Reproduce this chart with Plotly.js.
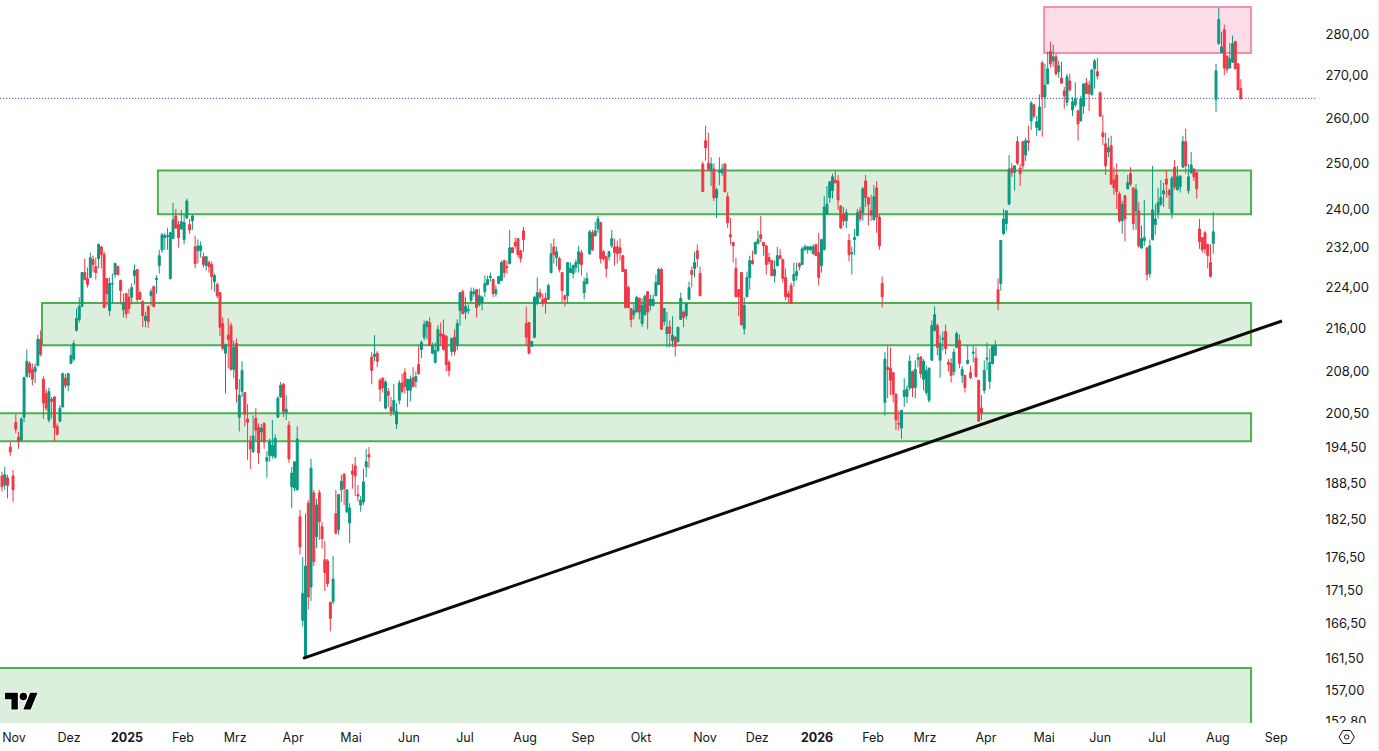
<!DOCTYPE html>
<html><head><meta charset="utf-8">
<script src="https://cdn.plot.ly/plotly-3.0.1.min.js"></script>
<style>html,body{margin:0;padding:0;background:#fff;overflow:hidden}#chart{width:1379px;height:751px}</style>
</head><body><div id="chart"></div>
<script>
// Each row: open, high, low, close (one row per trading day)
const nov2024=[[189.7,190.4,187.1,187.9],[188.2,191.2,187.4,189.9],[189.4,189.9,186,188.1],[194.6,195.5,193.1,193.8],[189.7,190.7,185.4,187.4],[198.9,200.3,197,197.7],[196.3,197.2,194.3,195.5],[195.8,199.8,195.6,199.5],[199.8,207.1,198.9,206.9],[207.1,212.1,206.9,209.9],[209.5,209.9,206.9,207.8],[208.4,209.5,205.5,206.6],[208,209.5,205.9,208.8],[209.1,214.9,209,214],[214,215.7,210.8,211.2],[206.6,207.1,199.5,202.3],[204,204.8,200.9,201.4],[199.3,205.1,198.9,204.4],[203,203.4,199.6,202.6],[203.4,203.5,195.6,198],[198.2,198.7,196.6,196.8],[199.1,201.9,198.9,201.4],[201.6,207.8,201.5,207.6],[206.8,207.6,205,205.5],[205.5,207.8,204.4,207.6]];
const dec2024=[[209.5,212.9,209.4,211],[210.3,213.8,209.9,213.2],[215.7,219.9,215.5,218],[217.8,222.1,217.2,220.3],[220.3,227,220.2,227],[227,229.8,225.4,225.6],[225.8,228,224,224.6],[226,231,225.9,230],[229.6,230.4,227,228.6],[228.2,230,225.6,227],[229.8,232.9,227.8,232.7],[232.2,232.4,227.8,230.6],[230.6,231.2,219.9,220.1],[225.8,225.9,220.5,222.8],[219.5,226,218.5,224.8],[224.7,226.8,220.9,224.8],[226.6,229,226,228.8],[228.2,228.4,226.4,226.6],[225.4,225.6,220.7,223.4],[219.7,222.8,218.2,221.1],[222.8,223,218,218.9]];
const jan2025=[[222.1,223.8,218.9,219.9],[222.1,224.8,220.7,224],[226.4,228.6,224.6,227.4],[227.6,227.7,221.1,221.7],[223,223.3,221.5,221.7],[221.3,221.5,216.3,218.5],[217.6,219.2,216.3,218.4],[220.3,220.5,216.1,217.4],[222.4,223.8,220.5,223.2],[224.2,224.4,220.1,220.3],[225.6,226.4,222.8,225.8],[228.4,231.6,226.8,230.4],[231.6,235.1,231,234.7],[234.1,235.1,231.6,234.5],[234.3,236.1,231.6,234.5],[225.8,235.3,225.6,235.1],[233.9,241.4,233.8,237.8],[238.6,240.1,235.9,236.1],[236.8,237.6,232,234.1],[235.9,239.9,235.8,237.4]];
const feb2025=[[233.7,239,232.7,237.2],[238.2,242.3,238,241.8],[236.8,238,234.9,235.7],[237.6,239,235.7,238.6],[232.2,234.5,227.8,228.8],[231.4,233.7,228.8,232.4],[231.4,233.3,230,232.4],[230.2,231,228,228.6],[228.4,230.2,227.4,230.2],[229,229.4,227,228.2],[228.6,229.2,223.6,226.2],[225.2,226.8,223.2,226.4],[224.6,225,221.9,222.4],[223,223,214.6,216.3],[217,218.2,211.9,212.3],[211.4,213.2,204,213],[214.8,218,208.6,214],[216.6,217.2,208.2,208.4]];
const mar2025=[[208.4,213.8,206.8,212.5],[213.2,214.2,202.4,204.8],[199.8,206.6,197.3,203.7],[204.4,209.9,203.4,208.2],[204.2,204.3,198.2,200.3],[199.5,202.1,192.4,198.9],[195.5,196.6,190.9,194.3],[193.8,200.1,193.6,196.5],[199.6,201.4,195.8,197.5],[198,198.7,191.7,193.6],[197.2,198.6,195.5,197.9],[198.7,198.9,194.3,195.5],[192.2,193.9,189.4,192.8],[193.1,196,192.1,195.5],[193.1,199.3,192.6,194.9],[192.9,196.8,192.6,196.1],[199.8,203.5,199.7,203.2],[203.4,206.1,203.3,205.5],[205.7,205.9,199.8,200.8],[200.6,203.7,199.3,201.2],[198.4,199.1,191.9,192.6]];
const apr2025=[[187.9,191.2,184.4,190.2],[187.7,192.1,187.2,192.1],[187.4,198.2,187.3,196],[183,184.1,177,178.2],[167,176.6,166.1,171],[161.8,183.5,161.6,175.2],[185.2,185.7,168.6,170.5],[172,192.6,169.9,191],[186.9,187.4,175.2,175.9],[179.8,185.9,178,184.9],[186.9,187.4,179.3,182.2],[181.4,182.2,177.9,179.5],[176.2,179.1,171.4,174.2],[176,176.3,172,172.5],[169.7,169.8,165.4,167.3],[169.8,176.8,169.4,173.2],[183.5,187.4,180.1,180.4],[180.9,186.7,180.1,186.6],[187.4,189.9,185.4,188.8],[190,190.2,184.9,187.6],[183.8,187.4,183.6,187.4],[182,185.2,178.8,184.4]];
const may2025=[[190.5,191.7,187.6,190],[191.4,192.9,186.4,189.7],[186.6,188.2,185.5,186.4],[184.9,186.4,183.8,185.7],[185.4,190.9,184.9,188.7],[191.2,194.3,189.5,192.1],[193.3,194.6,191,192.9],[210.7,211.6,205.7,208.2],[210.8,214.8,209.9,211.2],[211.4,211.8,208.8,209.9],[206.4,206.8,202.6,204.8],[206.8,206.9,204.2,205.1],[201.4,206.4,201.2,206.1],[204.4,205,201.6,203.7],[201.6,203.4,200,200.8],[200.8,205.7,200.1,202.8],[198.6,202.3,197.7,200.8],[202.8,206.4,202.1,205.9],[205.9,207.6,204,204.4],[207.8,208.6,204,205.3],[204.6,206.6,201.6,206.6]];
const jun2025=[[204.6,207.3,202.6,206.6],[206.9,208.8,205.1,205.3],[206.2,208,205.1,207.1],[209.3,212.9,207.4,207.6],[212.1,213.8,210.5,213.4],[214.4,217.6,213.8,216.8],[216.4,217.6,214,217.4],[217.2,218.2,212.7,212.9],[211.4,213.4,211.2,212.9],[209.7,213.4,209.5,211.9],[211.9,216.7,211.6,215.9],[215.1,217.2,212.9,214.6],[214.9,217.8,211.9,212.1],[214.6,214.8,208,209.3],[209.7,210.1,207.1,208.2],[211.7,214.2,210.8,214.2],[214.4,215.9,211,211.7],[212.9,217.8,211.9,217],[219.5,223,216.6,223],[223.2,223.6,218.9,218.9]];
const jul2025=[[219.2,222.1,217.8,220.3],[219.5,220.7,218.9,219.7],[221.5,224,221.1,223.2],[222.8,224,222.2,223.2],[223.6,223.7,218.2,220.1],[220.7,223.8,220.3,222.4],[221.1,222.4,219.5,222.1],[223.2,226.4,222.2,224.8],[224.6,226.4,224.4,225.6],[226,227,225.2,226.2],[225.6,225.8,222.1,222.8],[222.8,224.4,222.2,223.6],[224.8,226.3,224.7,226.2],[225.4,229.4,225.3,229],[229.4,229.6,226,227],[228.2,229.4,226.8,228],[228.8,235.7,228.6,232],[232,232.2,231,231],[233.1,234.1,231.8,232.4],[233.9,233.9,230,230.6],[231.4,231.6,229,229.8],[235.5,236.3,231.2,233.7]];
const aug2025=[[217,220.3,212.7,214.4],[217.2,217.3,211.2,211.4],[212.7,213.6,212.6,213.6],[214.4,222.4,214.2,222.1],[220.9,226,220.5,223],[223,223.8,221.7,222.2],[221.7,222.8,220.3,220.9],[221.9,223,218.9,221.1],[221.7,224.8,221.6,224.4],[227,232.9,226.8,230.8],[232.2,233.9,228.8,230.6],[230,232.2,228.2,231.2],[229.8,230.2,227,227.6],[227,227.1,220.9,223.4],[222.4,222.6,220.3,221.7],[222.4,229.1,220.9,229],[227,229,226.9,227.8],[226.8,228.6,225.8,228.4],[228,229.6,227,229],[228.8,232.4,227,231.2],[231,231.6,226.4,228.6]];
const sep2025=[[223,226,221.7,225.2],[224.8,227,224.6,225.8],[230.8,235.7,230.6,235.3],[235.1,235.7,231.4,231.6],[234.5,237.4,234.3,235.5],[235.9,238.6,235.1,238],[237.2,237.4,228.8,229.8],[231.2,231.6,229.4,229.8],[230.2,230.4,226,227.8],[230.2,231.4,229.4,231.2],[232.4,235.7,232,233.9],[232.2,233.9,228.4,231],[232.2,233.5,228.8,230.8],[232,233.9,229.4,231],[230.4,230.5,227.1,227.2],[227.6,227.7,219.9,220.1],[224,224.4,219.9,220.1],[219.9,220,216.3,217.8],[218.7,220.9,217.8,219.5],[219.3,222.4,219.1,222.1],[221.9,222,217.8,219.2]];
const oct2025=[[217,221.9,216.4,220.5],[218.7,222.6,218.5,222.3],[223.2,223.3,215.9,219.2],[220.5,222.6,219.5,221.7],[220.5,222.6,220.3,221.7],[222.4,226.6,222.3,225],[224.6,228,224.5,227.6],[227.6,228,215.9,215.9],[217.4,219.9,216.6,219.9],[215.1,219.2,212.5,216.3],[216.4,217.6,212.5,215.1],[213.8,218.4,212.5,214.8],[214.4,214.6,210.8,212.7],[213.6,216.4,213.4,216.3],[217.8,223,217.7,221.9],[219.2,219.5,216.3,218.2],[218.5,221.1,217.8,220.9],[221.7,225.2,221.6,224],[227.4,228.2,224,226.6],[227.8,231.2,226,229],[231.4,232.7,228,229.8],[226.8,228.2,222.3,222.4]];
const nov2025=[[249.8,250.3,243.7,243.8],[255,258.4,250.5,253.4],[250,256.8,248.3,248.7],[248.3,251.3,245,249.8],[248.7,250,241.8,242.5],[242.5,244.6,238.2,244.2],[248,251.3,245.2,248.3],[247.9,249.8,247.2,248.7],[249.8,250,243.6,243.8],[242.7,243.6,236.1,237.2],[234.7,238.2,232.7,234.3],[233.1,233.2,229,232.4],[227.8,230,222.1,222.2],[223.6,223.7,218.4,222.2],[227,227.1,216.6,216.8],[216,222.1,214.9,220.5],[222.2,227.2,222.1,226],[226,230.4,223.6,229.4],[229.4,231.4,228.6,228.8],[230.8,233.3,230.6,233.1]];
const dec2025=[[232.9,235.5,232.7,233.7],[234.7,238.6,233.1,233.9],[233.1,233.2,230.4,232.4],[232.4,232.5,226.6,228.6],[230,231,228.6,229.2],[229.4,229.5,226.2,226.4],[226.4,229.4,225,227.6],[228.4,232.2,228.2,230.4],[230.4,231.8,229.7,229.8],[229.6,229.8,225,225.8],[226,227.8,221.5,222.2],[222.8,223.4,220.9,222.2],[224.4,225,220.8,220.9],[225.4,229,224.2,226.6],[226.4,229,225.4,227.2],[228.8,229,227.4,228.2],[228.6,232.2,228.5,231.8],[231.6,232.7,231.4,232.2],[231.6,232.4,230.8,232.2],[231.6,232.4,231.4,232.2],[230.8,232.7,230.6,232.2],[232.7,232.8,230.3,230.4]];
const jan2026=[[231,235.1,224.4,226],[228.4,233.7,227,233.7],[231.6,242.9,231.5,240.5],[239,245,238.9,241.1],[242.5,246.1,241.4,245.9],[244,247.7,242.3,247],[246.3,248.3,245.6,245.7],[246.1,247.4,239.9,242],[240.7,240.9,235.9,236.1],[239,240.5,236.6,237.6],[237.6,240.1,236.1,239.3],[233.5,234.9,229.2,230.6],[230.8,232.2,226.6,231],[233.7,235.9,230.6,234.1],[234.5,240.1,234.4,239.3],[239.7,240.5,237.4,238],[239.3,244.8,237.6,244.4],[246.1,247.4,240.5,242.5],[242.5,242.6,236.6,241.1],[239.7,243.1,237.6,238.8]];
const feb2026=[[237.8,245.2,237.7,242.7],[244.6,246.1,235.1,238.4],[238.4,239,231.6,232.4],[224.8,226.2,220.1,222.2],[202.4,211.6,200.1,210.3],[208.8,212.7,203.2,208.4],[208.6,212.5,203.7,206.4],[207.8,207.9,202.4,203.9],[203.9,204,197.5,199.3],[198.7,201,197.5,198.6],[197.9,201.1,196,201],[203.5,206.8,201.6,204.6],[203.5,205.5,202.3,204.8],[205,211,204.6,209.9],[208,208.2,203.4,205],[205.1,210.1,203.2,208.4],[210.3,211.4,208.8,210.5],[210.7,210.8,206.8,207.6],[206.6,210.3,204.6,209.9]];
const mar2026=[[204.2,209.1,203.7,208.2],[202.8,208.8,202.4,208.6],[210.1,217.6,210,216.6],[215.7,220.3,215.5,218.7],[216.6,217,211,212.5],[210.1,214.8,206.9,213.2],[214,215.5,211.9,214.2],[215.5,216.8,211.2,212.3],[209.7,210.3,208,209.3],[209.5,210.5,206,207.3],[208,212.3,207.3,211.6],[212.5,215.5,212.3,215.1],[213.8,214.9,208.6,209.5],[207.3,209,205.9,208.4],[207.3,207.4,204.2,205.1],[209.5,212.9,209.3,210.1],[207.8,209.1,206.6,206.9],[211.4,212.9,209.7,211.6],[210.5,212.5,206.9,207.1],[206.4,206.5,199.1,199.1],[201.4,203.7,199.3,200.6],[204.6,210.1,204,208.2]];
const apr2026=[[210.3,213.4,208.2,210.5],[206.2,212.3,204.8,209.7],[209.5,213,209.3,212.7],[211,213.8,210.9,212.9],[223.6,225.8,219.5,220.9],[224.8,233.5,223.4,233.5],[234.9,240.1,234.7,238],[237,239.7,235.5,239.7],[241.1,251.8,241,248.7],[248.9,250,247,247.9],[248,249.4,244,249.4],[254.8,256,249.6,250],[248.9,249.8,245,247.7],[254.8,254.9,248.7,249.4],[251.8,255.7,250.5,255],[255,258.4,252.7,254.6],[259.5,264.1,257.4,263.6],[263.2,263.3,260,260.6],[258,260.6,256,259.3],[257.4,265.6,257.3,262.7],[273.1,273.6,255.9,265]];
const may2026=[[265,272.9,262.5,267.8],[268.1,275.9,268,271.7],[275.9,278.2,272,272.9],[273.6,277.5,272.2,274.6],[274.6,275.4,270,270.5],[271,273.6,269.5,272.4],[269.5,273.4,268.1,268.3],[266.5,267.4,262.3,265.3],[263.8,270.5,262.9,269.8],[268.8,270.5,266.3,266.7],[262,265,260.6,263.9],[263.2,268.5,262.7,264.6],[261.8,261.9,255,258.8],[259.5,265.3,259.3,264.6],[262.9,268.1,261.1,268.1],[268.3,269.5,265.8,265.8],[267.8,268.8,261.8,265.8],[265.6,271.7,265.3,271.4],[271.7,274.1,267,273.6],[271,274.3,269.2,270]];
const jun2026=[[266,266.3,260.4,260.6],[256.8,260.9,254,255.9],[254.3,256.8,247.4,249.4],[252.5,255.7,251.3,253.4],[253.9,256.1,245.4,245.4],[246.3,249.1,243.1,244.6],[247.4,250,240.1,243.8],[243.3,243.8,237.2,237.6],[237.6,241.8,234.9,241.1],[242.9,243.1,233.3,238],[244.4,247.4,244.3,245.7],[247.7,249.1,245,245.4],[244.6,244.7,235.7,237],[239.7,245.4,235.7,244.2],[239.7,241.6,232,232.4],[232,236.6,231.8,233.9],[233.5,242,232.4,234.1],[232,232.1,225.4,226.6],[226.8,233.7,226,232.4],[233.7,249.4,233.5,239.9],[236.8,241.1,234.7,238]];
const jul2026=[[239.3,244.6,238,241.4],[241.1,246.3,240.7,242.5],[243.3,245.7,240.5,244],[246.5,248.5,242.5,245.4],[244,244.4,240.1,243.1],[239.3,247.2,238,246.7],[249.1,250.7,244.2,244.8],[244.2,249.4,244,247],[244.8,247.2,243.6,247.2],[249.1,256.1,249,254.8],[254.8,257.7,247.7,249.4],[244,249.8,243.3,247],[247.9,252.5,247.7,249.6],[248.7,248.8,246.1,247],[247.9,248,242.3,244.4],[235.9,238,231.8,233.3],[234.1,234.2,231,231.6],[235.1,235.5,230.8,231.8],[232.7,232.8,227.8,230.4],[229,232.7,226,226.2],[232.9,239.5,230.8,235.3]];
const aug2026=[[264.4,272.9,261.6,271.2],[277.8,286.7,277.6,283.8],[275.6,280.7,275.5,277],[281.2,282.5,270.2,271.9],[274.8,274.9,270.7,271.6],[271.9,278,271.8,274.1],[273.3,279.8,273.1,277.8],[278.3,278.5,271.6,271.7],[272.9,273,266.7,266.7],[267,269.2,264.5,264.6]];

const monthTickLabels=['Nov','Dez','<b>2025</b>','Feb','Mrz','Apr','Mai','Jun','Jul','Aug','Sep','Okt','Nov','Dez','<b>2026</b>','Feb','Mrz','Apr','Mai','Jun','Jul','Aug','Sep'];
const monthTickBars=[4.35,24.3,45.3,65.6,84.5,105.5,126.5,147.5,167.8,189.6,210.6,231.6,254.8,273.7,295.4,315.7,334.5,356.6,377.7,398,418.6,440.7,461.8];
const priceTicks=[152.8,157,161.5,166.5,171.5,176.5,182.5,188.5,194.5,200.5,208,216,224,232,240,250,260,270,280];

// zones: [first bar, last bar, lower price, upper price]
const greenZones=[[56.5,452.7,239,248.4],[14.5,452.7,212.9,221],[-5,452.7,195.6,200.5],[-5,452.7,140,160.15]];
const pinkZone=[377.7,452.7,275.5,286.9];
const trendLine=[[109.1,161.5],[463.9,217.5]];
const lastPrice=264.7;

const rows=[].concat(nov2024,dec2024,jan2025,feb2025,mar2025,apr2025,may2025,jun2025,jul2025,aug2025,sep2025,oct2025,nov2025,dec2025,jan2026,feb2026,mar2026,apr2026,may2026,jun2026,jul2026,aug2026);
const bars=rows.map((_,i)=>i);

const UP='#089981',DOWN='#F23645',W=1317,H=723;
const trace={type:'candlestick',x:bars,open:rows.map(r=>r[0]),high:rows.map(r=>r[1]),low:rows.map(r=>r[2]),close:rows.map(r=>r[3]),
  increasing:{line:{color:UP,width:1},fillcolor:UP},decreasing:{line:{color:DOWN,width:1},fillcolor:DOWN},whiskerwidth:0,hoverinfo:'skip',showlegend:false};

const shapes=[];
greenZones.forEach(z=>shapes.push({type:'rect',xref:'x',yref:'y',x0:z[0],x1:z[1],y0:z[2],y1:z[3],fillcolor:'rgba(76,175,80,0.2)',line:{color:'#4CAF50',width:2},layer:'below'}));
shapes.push({type:'rect',xref:'x',yref:'y',x0:pinkZone[0],x1:pinkZone[1],y0:pinkZone[2],y1:pinkZone[3],fillcolor:'rgba(233,30,99,0.15)',line:{color:'#F48FB1',width:2},layer:'below'});
shapes.push({type:'line',xref:'x',yref:'y',x0:-5,x1:480,y0:lastPrice,y1:lastPrice,line:{color:'#1B2F80',width:1,dash:'1px,2px'},layer:'below'});
shapes.push({type:'line',xref:'x',yref:'y',x0:trendLine[0][0],y0:trendLine[0][1],x1:trendLine[1][0],y1:trendLine[1][1],line:{color:'#0a0a0a',width:3},layer:'above'});
// mask that cuts the lowest price label at the pane edge
shapes.push({type:'rect',xref:'paper',yref:'paper',x0:1,x1:1379/W,y0:0,y1:-7/H,fillcolor:'#fff',line:{width:0},layer:'above'});
shapes.push({type:'rect',xref:'paper',yref:'paper',x0:1377/W,x1:1379/W,y0:1,y1:-28/H,fillcolor:'#F0F3FA',line:{width:0},layer:'above'});

const logo=encodeURIComponent('<svg xmlns="http://www.w3.org/2000/svg" viewBox="0 0 36 28"><g stroke="#fff" stroke-width="2" paint-order="stroke"><path d="M14 22H7V11H0V4h14v18zM28 22h-8l7.5-18h8L28 22z"/><circle cx="20" cy="8" r="4"/></g></svg>');
const gear=encodeURIComponent('<svg xmlns="http://www.w3.org/2000/svg" viewBox="0 0 18 18"><path d="M5.2 2.5h7.6L16.6 9l-3.8 6.5H5.2L1.4 9z" fill="none" stroke="#131722" stroke-width="1"/><circle cx="9" cy="9" r="2.2" fill="none" stroke="#131722" stroke-width="1"/></svg>');

Plotly.newPlot('chart',[trace],{
  width:1379,height:751,margin:{l:0,r:62,t:0,b:28,pad:0},paper_bgcolor:'#fff',plot_bgcolor:'#fff',showlegend:false,boxgap:0.3,boxgroupgap:0,
  font:{family:'Inter, "Liberation Sans", sans-serif',size:13,color:'#131722'},
  xaxis:{type:'linear',range:[-0.725,476.6],rangeslider:{visible:false},showgrid:false,zeroline:false,showline:false,
    tickmode:'array',tickvals:monthTickBars,ticktext:monthTickLabels,ticks:'outside',ticklen:3,tickcolor:'rgba(0,0,0,0)',tickfont:{size:12.5}},
  yaxis:{type:'log',side:'right',range:[Math.log10(152.55),Math.log10(288.7)],showgrid:false,zeroline:false,showline:false,
    tickmode:'array',tickvals:priceTicks,ticktext:priceTicks.map(v=>v.toFixed(2).replace('.',',')),ticks:'outside',ticklen:5,tickcolor:'rgba(0,0,0,0)',tickfont:{size:13}},
  shapes:shapes,
  images:[
    {source:'data:image/svg+xml,'+logo,xref:'paper',yref:'paper',x:5/W,y:1-(689/H),sizex:33/W,sizey:26/H,xanchor:'left',yanchor:'top',sizing:'stretch',layer:'above'},
    {source:'data:image/svg+xml,'+gear,xref:'paper',yref:'paper',x:1337.7/W,y:-(5/H),sizex:18/W,sizey:18/H,xanchor:'left',yanchor:'top',sizing:'stretch',layer:'above'}
  ]
},{staticPlot:true,displayModeBar:false});
</script></body></html>
